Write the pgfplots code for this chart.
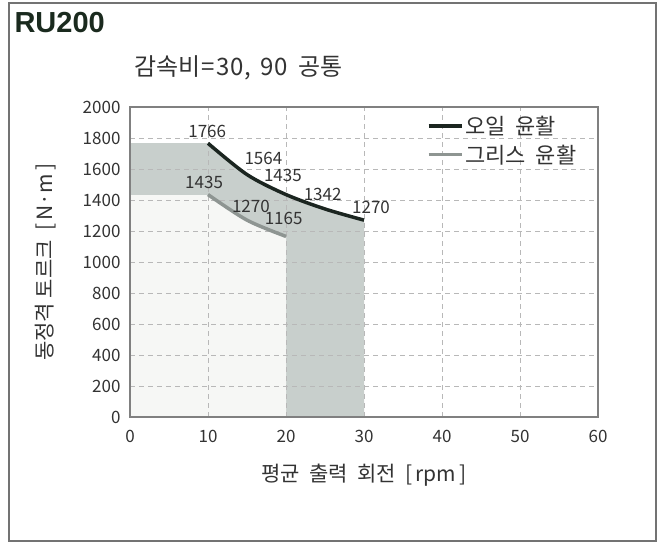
\documentclass[border=0pt]{standalone}
\usepackage{fontspec}
\setmainfont{Noto Sans CJK KR}
\newfontfamily\titlefont{Liberation Sans}
\usepackage{pgfplots}
\pgfplotsset{compat=1.18}
\definecolor{bandgray}{HTML}{C8CFCC}
\definecolor{lightfill}{HTML}{F6F7F5}
\definecolor{oil}{HTML}{1B2520}
\definecolor{grease}{HTML}{8E9592}
\definecolor{gridgray}{HTML}{B8B8B8}
\definecolor{txt}{HTML}{333333}
\definecolor{titlegreen}{HTML}{1A2A1E}
\pgfplotsset{
  baseaxis/.style={
    scale only axis,
    width=468pt, height=310pt,
    at={(130pt,128pt)}, anchor=south west,
    xmin=0, xmax=60, ymin=0, ymax=2000,
  }
}
\begin{document}
\begin{tikzpicture}
\useasboundingbox (0pt,0pt) rectangle (665pt,545pt);
\draw[color=black!55, line width=1.2pt] (9pt,4pt) rectangle (656pt,542pt);
\node[anchor=west, font=\titlefont\bfseries\fontsize{29}{32}\selectfont, text=titlegreen] at (11pt,522pt) {RU200};
\node[anchor=west, font=\fontsize{24}{26}\selectfont, text=txt] at (131pt,477pt) {감속비\hspace{1pt}=\hspace{1pt}3\hspace{1pt}0\hspace{1pt},\hspace{9pt}9\hspace{1pt}0\hspace{10pt}공통};
% fills only
\begin{axis}[baseaxis, hide axis]
\addplot[fill=bandgray, draw=none] coordinates {(0,1766) (10,1766)} \closedcycle;
\addplot[fill=bandgray, draw=none, smooth] coordinates {(10,1766) (15,1564) (20,1435) (25,1342) (30,1270)} \closedcycle;
\addplot[fill=lightfill, draw=none] coordinates {(0,1435) (10,1435)} \closedcycle;
\addplot[fill=lightfill, draw=none, smooth] coordinates {(10,1435) (15,1270) (20,1165)} \closedcycle;
\end{axis}
\begin{axis}[
  baseaxis,
  xtick={0,10,...,60}, ytick={0,200,...,2000},
  major tick length=0pt,
  grid=major,
  grid style={gridgray, dash pattern=on 5pt off 4pt, line width=0.8pt},
  axis line style={black!50, line width=1.2pt},
  tick label style={font=\fontsize{17}{19}\selectfont, text=txt},
  /pgf/number format/assume math mode=true,
  /pgf/number format/1000 sep={},
  xticklabel style={yshift=-10pt},
  yticklabel style={xshift=-6pt},
  xlabel={평균\ \ 출력\ \ 회전\ \ [\,rpm\,]},
  ylabel={동정격\ 토르크\ \ [\,N·m\,]},
  label style={font=\fontsize{21}{24}\selectfont, text=txt},
  xlabel style={yshift=-14pt},
  ylabel style={yshift=20pt},
  legend style={at={(0.965,0.985)}, anchor=north east, draw=none, fill=none,
    font=\fontsize{22}{24}\selectfont, text=txt, row sep=5pt},
  legend cell align=left,
  legend image code/.code={\draw[#1, line width=3.5pt] (0pt,0pt) -- (33pt,0pt);},
]
\addplot[oil, line width=3.5pt, smooth] coordinates {(10,1766) (15,1564) (20,1435) (25,1342) (30,1270)};
\addlegendentry{오일\ \ 윤활}
\addplot[grease, line width=3.5pt, smooth] coordinates {(10,1435) (15,1270) (20,1165)};
\addlegendentry{그리스\ \ 윤활}
\node[font=\fontsize{17}{19}\selectfont, text=txt] at (axis cs:9.9,1845) {1766};
\node[font=\fontsize{17}{19}\selectfont, text=txt] at (axis cs:17.1,1671) {1564};
\node[font=\fontsize{17}{19}\selectfont, text=txt] at (axis cs:19.6,1561) {1435};
\node[font=\fontsize{17}{19}\selectfont, text=txt] at (axis cs:24.7,1439) {1342};
\node[font=\fontsize{17}{19}\selectfont, text=txt] at (axis cs:30.9,1355) {1270};
\node[font=\fontsize{17}{19}\selectfont, text=txt] at (axis cs:9.5,1516) {1435};
\node[font=\fontsize{17}{19}\selectfont, text=txt] at (axis cs:15.5,1361) {1270};
\node[font=\fontsize{17}{19}\selectfont, text=txt] at (axis cs:19.7,1284) {1165};
\end{axis}
\end{tikzpicture}
\end{document}
